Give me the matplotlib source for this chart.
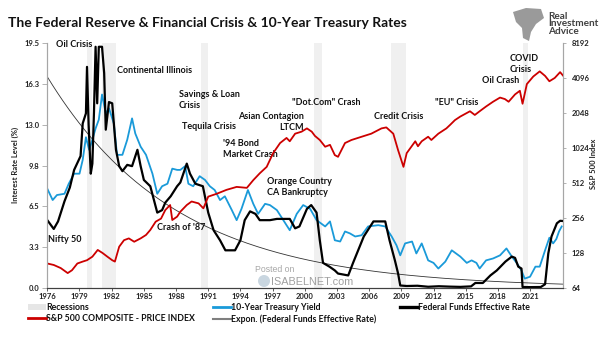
import numpy as np
import matplotlib.pyplot as plt
from matplotlib.lines import Line2D
from matplotlib.patches import Patch, Ellipse, Polygon

plt.rcParams['font.family'] = ['Lato', 'DejaVu Sans']

# Federal funds effective rate (%), by decimal year
ff_years = [1976.0, 1976.6, 1977.0, 1977.6, 1978.1, 1978.5, 1979.1, 1979.3, 1979.6, 1979.7,
            1979.85, 1980.05, 1980.2, 1980.35, 1980.5, 1980.65, 1980.8, 1981.1, 1981.3, 1981.45,
            1981.75, 1982.05, 1982.4, 1982.7, 1983.0, 1983.45, 1983.9, 1984.4, 1984.7, 1985.0,
            1985.6, 1986.25, 1986.7, 1987.0, 1987.5, 1988.1, 1988.4, 1989.0, 1989.3, 1989.8,
            1990.5, 1991.0, 1991.5, 1992.1, 1992.6, 1993.5, 1994.0, 1994.4, 1994.9, 1995.4,
            1995.8, 1996.75, 1997.4, 1998.6, 1999.1, 1999.5, 2000.2, 2000.6, 2001.1, 2001.4,
            2001.7, 2002.3, 2002.8, 2003.1, 2004.05, 2004.5, 2005.5, 2006.4, 2007.5, 2007.9,
            2008.4, 2008.7, 2008.9, 2009.5, 2010.5, 2011.5, 2012.5, 2013.5, 2014.5, 2015.5,
            2015.9, 2016.6, 2017.3, 2017.9, 2018.7, 2019.3, 2019.6, 2019.9, 2020.2, 2020.3,
            2021.0, 2022.0, 2022.4, 2022.7, 2023.0, 2023.5, 2023.8, 2024.1]
ff_rate = [5.4, 4.7, 5.3, 6.9, 8.0, 9.4, 10.5, 13.1, 13.9, 17.6,
           13.0, 9.1, 9.9, 14.0, 19.2, 14.7, 19.2, 19.2, 17.1, 12.6,
           14.8, 14.7, 11.0, 9.7, 9.3, 9.8, 9.7, 11.0, 9.7, 8.6,
           8.1, 6.0, 6.2, 6.8, 7.3, 8.1, 8.4, 9.9, 9.1, 8.3,
           8.1, 6.0, 4.6, 3.8, 3.0, 3.0, 3.8, 5.4, 6.1, 5.9,
           5.4, 5.4, 5.5, 5.5, 4.75, 4.9, 6.3, 6.6, 6.0, 3.8,
           2.0, 1.7, 1.4, 1.15, 1.0, 2.0, 4.1, 5.3, 5.3, 3.8,
           2.2, 1.15, 0.2, 0.16, 0.18, 0.1, 0.14, 0.11, 0.09, 0.13,
           0.4, 0.4, 1.0, 1.4, 2.1, 2.5, 2.4, 1.7, 1.55, 0.08,
           0.07, 0.08, 0.3, 2.75, 4.1, 5.15, 5.35, 5.33]

# 10-year Treasury yield (%)
tsy_years = [1976.0, 1976.5, 1976.9, 1977.6, 1978.0, 1978.5, 1979.0, 1979.3, 1979.6, 1979.9,
             1980.2, 1980.5, 1980.8, 1981.1, 1981.45, 1981.75, 1982.2, 1982.5, 1983.0, 1983.45,
             1983.9, 1984.2, 1984.7, 1985.2, 1985.8, 1986.25, 1986.7, 1987.2, 1987.65, 1988.1,
             1988.4, 1988.85, 1989.15, 1989.6, 1990.2, 1990.7, 1991.15, 1991.6, 1992.1, 1992.55,
             1993.2, 1993.65, 1994.1, 1994.7, 1995.2, 1995.65, 1996.3, 1996.75, 1997.4, 1998.0,
             1998.6, 1999.25, 1999.85, 2000.5, 2001.1, 2001.9, 2002.35, 2002.8, 2003.3, 2003.75,
             2004.2, 2004.7, 2005.3, 2005.9, 2006.85, 2007.5, 2008.1, 2008.55, 2008.9, 2009.35,
             2010.0, 2010.4, 2010.9, 2011.5, 2012.0, 2012.45, 2013.1, 2013.7, 2014.5, 2015.1,
             2015.55, 2016.0, 2016.3, 2016.9, 2017.55, 2018.2, 2018.8, 2019.3, 2019.75, 2020.2,
             2020.5, 2021.0, 2021.5, 2021.9, 2022.4, 2022.8, 2023.15, 2023.45, 2023.7, 2023.95]
tsy_rate = [7.9, 7.0, 7.4, 7.5, 8.3, 9.1, 9.1, 10.2, 12.0, 11.0,
            11.8, 12.7, 13.4, 15.4, 13.9, 14.3, 13.1, 10.6, 10.6, 11.8,
            13.5, 12.3, 11.25, 10.6, 9.1, 7.5, 8.1, 8.3, 9.5, 9.4,
            9.4, 9.7, 8.3, 8.1, 8.9, 8.6, 8.1, 7.8, 7.0, 7.3,
            6.2, 5.4, 6.3, 7.8, 6.7, 5.9, 6.7, 6.6, 6.2, 5.4,
            4.6, 5.9, 6.6, 6.3, 5.4, 4.9, 5.3, 3.8, 3.7, 4.5,
            4.35, 4.1, 4.2, 4.9, 5.0, 4.9, 4.1, 3.4, 2.6, 3.55,
            3.7, 2.75, 3.55, 2.2, 2.0, 1.55, 2.1, 3.0, 2.5, 2.0,
            2.2, 2.0, 1.55, 2.2, 2.35, 2.6, 3.15, 2.5, 2.0, 1.4,
            0.75, 0.9, 1.7, 1.7, 3.0, 4.0, 3.55, 3.9, 4.5, 4.9]

# S&P 500 composite price index (right axis, log scale)
spx_years = [1976.0, 1976.6, 1977.25, 1977.9, 1978.3, 1978.8, 1979.3, 1979.7, 1980.2, 1980.7,
             1981.15, 1981.6, 1982.05, 1982.3, 1982.7, 1983.15, 1983.6, 1984.1, 1984.7, 1985.2,
             1985.6, 1986.1, 1986.6, 1987.0, 1987.45, 1987.65, 1988.1, 1988.4, 1989.0, 1989.45,
             1990.1, 1990.55, 1991.0, 1991.8, 1992.7, 1993.65, 1994.6, 1995.2, 1995.8, 1996.45,
             1997.05, 1997.7, 1998.3, 1998.6, 1999.1, 1999.7, 2000.2, 2000.65, 2000.95, 2001.4,
             2001.9, 2002.35, 2002.8, 2003.1, 2003.75, 2004.35, 2005.3, 2006.2, 2007.15, 2007.6,
             2008.25, 2008.7, 2009.0, 2009.2, 2009.5, 2010.3, 2010.55, 2010.9, 2011.5, 2011.8,
             2012.45, 2013.2, 2013.55, 2014.0, 2014.5, 2015.4, 2015.85, 2016.3, 2016.9, 2017.55,
             2018.2, 2018.65, 2019.0, 2019.6, 2020.05, 2020.3, 2020.7, 2021.3, 2021.9, 2022.4,
             2022.8, 2023.3, 2023.8, 2024.1]
spx_index = [104, 101, 95, 86, 91, 104, 108, 111, 119, 136,
             128, 119, 111, 108, 145, 165, 171, 160, 171, 183,
             202, 238, 253, 300, 331, 246, 263, 290, 331, 355,
             342, 310, 391, 414, 447, 474, 465, 542, 620, 705,
             925, 1130, 1250, 1170, 1360, 1415, 1510, 1415, 1300, 1200,
             1050, 1090, 890, 860, 1130, 1200, 1280, 1360, 1510, 1540,
             1360, 980, 805, 705, 925, 1170, 1060, 1170, 1280, 1200,
             1360, 1510, 1620, 1780, 1910, 2120, 1970, 2120, 2330, 2560,
             2780, 2700, 2560, 2960, 3180, 2460, 3630, 4220, 4670, 4270,
             3840, 4100, 4600, 4270]

recessions = [(1979.7, 1980.2), (1981.1, 1982.4), (1990.3, 1991.0),
              (2000.9, 2001.6), (2008.0, 2009.4), (2020.3, 2020.8)]

left_ticks = [0.0, 3.25, 6.5, 9.75, 13.0, 16.25, 19.5]
left_labels = ['0.0', '3.3', '6.5', '9.8', '13.0', '16.3', '19.5']
right_ticks = [64, 128, 256, 512, 1024, 2048, 4096, 8192]
year_ticks = list(range(1976, 2022, 3))

events = [
    ("Oil Crisis", 1976.81, 19.35, 'left'),
    ("Continental Illinois", 1982.50, 17.30, 'left'),
    ("Savings & Loan\nCrisis", 1988.27, 14.97, 'left'),
    ("Tequila Crisis", 1988.55, 12.84, 'left'),
    ("'94 Bond\nMarket Crash", 1992.37, 11.05, 'left'),
    ("Asian Contagion\nLTCM", 1999.92, 13.19, 'right'),
    ('"Dot.Com" Crash', 1998.81, 14.78, 'left'),
    ("Credit Crisis", 2006.45, 13.69, 'left'),
    ('"EU" Crisis', 2012.13, 14.75, 'left'),
    ("Oil Crash", 2016.51, 16.48, 'left'),
    ("COVID\nCrisis", 2019.12, 17.86, 'left'),
    ("Orange Country\nCA Bankruptcy", 1996.47, 8.07, 'left'),
    ("Crash of '87", 1986.22, 4.83, 'left'),
    ("Nifty 50", 1976.07, 3.88, 'left'),
]

fig = plt.figure(figsize=(6.05, 3.41), dpi=100)
ax = fig.add_axes([0.0782, 0.1554, 0.8529, 0.7185])
ax2 = ax.twinx()

for a, b in recessions:
    ax.axvspan(a, b, color='#f0f0f0', lw=0, zorder=0)

# exponential trend of the fed funds rate, fitted in log space with each
# reading weighted by the stretch of time it covers
ff_x = np.array(ff_years)
span = np.gradient(ff_x)
k, c = np.polyfit(ff_x, np.log(ff_rate), 1, w=np.sqrt(span))
trend_x = np.linspace(1976.0, 2024.1, 200)
ax.plot(trend_x, np.exp(c + k * trend_x), color='#333333', lw=0.6, zorder=2)

ax.plot(tsy_years, tsy_rate, color='#1a9ad9', lw=1.3, zorder=3)
ax.plot(ff_years, ff_rate, color='black', lw=1.6, zorder=4)
ax2.plot(spx_years, spx_index, color='#cc0000', lw=1.3)

ax.set_xlim(1976.0, 2024.1)
ax.set_ylim(0, 19.5)
ax2.set_yscale('log', base=2)
ax2.set_ylim(64, 8192)

ax.set_xticks(year_ticks)
ax.set_xticklabels([str(y) for y in year_ticks])
ax.set_yticks(left_ticks)
ax.set_yticklabels(left_labels)
ax2.set_yticks(right_ticks)
ax2.set_yticklabels([str(v) for v in right_ticks])
ax2.minorticks_off()

for a in (ax, ax2):
    a.spines['top'].set_visible(False)
    a.spines['left'].set_color('#a6a6a6')
    a.spines['right'].set_color('#a6a6a6')
    a.spines['bottom'].set_color('#404040')
ax.tick_params(axis='y', length=3.4, width=0.6, color='#a6a6a6', pad=2.2,
               labelsize=5.5, labelcolor='#222222')
ax.tick_params(axis='x', length=2.2, width=0.6, color='#404040', pad=1.5,
               labelsize=5.5, labelcolor='#222222')
ax2.tick_params(axis='y', length=2.5, width=0.6, color='#a6a6a6', pad=3.5,
                labelsize=5.5, labelcolor='#222222')
for lab in ax.get_xticklabels() + ax.get_yticklabels() + ax2.get_yticklabels():
    lab.set_fontweight('bold')

for txt, x, y, ha in events:
    ax.text(x, y, txt, ha=ha, va='center', fontsize=6.5, fontweight='bold',
            color='#111111', linespacing=1.3, multialignment=ha, zorder=6)

fig.text(15 / 605, 1 - 165 / 341, 'Interest Rate Level (%)', rotation=90,
         ha='center', va='center', fontsize=5.5, fontweight='bold', color='#222222')
fig.text(593 / 605, 1 - 164 / 341, 'S&P 500 Index', rotation=90,
         ha='center', va='center', fontsize=5.5, fontweight='bold', color='#222222')

fig.text(8 / 605, 1 - 23 / 341,
         'The Federal Reserve & Financial Crisis & 10-Year Treasury Rates',
         ha='left', va='center', fontsize=10, fontweight='bold', color='#111111')

# logo
fig.text(548 / 605, 1 - 24 / 341, 'Real\nInvestment\nAdvice', ha='left', va='center',
         fontsize=7.2, fontweight='bold', color='#404040', linespacing=0.85)
logo = [(513, 12), (526, 8), (541, 9), (544, 18), (536, 24), (531, 32), (529, 41),
        (523, 38), (522, 28), (516, 22)]
fig.patches.append(Polygon([(x / 605, 1 - y / 341) for x, y in logo], closed=True,
                           facecolor='#9a9a9a', edgecolor='none', transform=fig.transFigure))

# watermark
fig.text(255 / 605, 1 - 269 / 341, 'Posted on', fontsize=6.3, color='#a8a8a8',
         ha='left', va='center', family='Liberation Sans')
fig.text(271 / 605, 1 - 282 / 341, 'ISABELNET.com', fontsize=7.8, color='#a0a0a0',
         ha='left', va='center', family='Liberation Sans')
fig.patches.append(Ellipse((264 / 605, 1 - 281 / 341), 12 / 605, 12 / 341,
                           facecolor='#c9d6e0', edgecolor='none', transform=fig.transFigure))

leg_kw = dict(loc='upper left', frameon=False, fontsize=6.3, handlelength=2.0,
              handletextpad=0.1, labelspacing=0.25, borderpad=0, borderaxespad=0)
for lg in [
    fig.legend([Patch(facecolor='#e6e6e6'), Line2D([], [], color='#cc0000', lw=2)],
               ['Recessions', 'S&P 500 COMPOSITE - PRICE INDEX'],
               bbox_to_anchor=(28 / 605, 1 - 303 / 341), **leg_kw),
    fig.legend([Line2D([], [], color='#1a9ad9', lw=2), Line2D([], [], color='#7f7f7f', lw=1.5)],
               ['10-Year Treasury Yield', 'Expon. (Federal Funds Effective Rate)'],
               bbox_to_anchor=(213 / 605, 1 - 303 / 341), **leg_kw),
    fig.legend([Line2D([], [], color='black', lw=2.4)],
               ['Federal Funds Effective Rate'],
               bbox_to_anchor=(400 / 605, 1 - 303 / 341), **leg_kw),
]:
    for t in lg.get_texts():
        t.set_fontweight('bold')
        t.set_color('#111111')

fig.savefig('out.png', dpi=100)
